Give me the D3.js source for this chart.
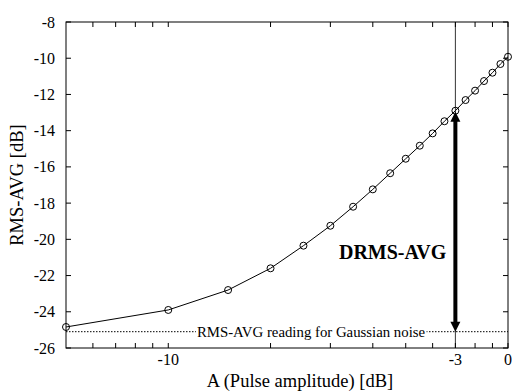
<!DOCTYPE html>
<html>
<head>
<meta charset="utf-8">
<script src="https://cdn.jsdelivr.net/npm/d3@7"></script>
<style>
  body { margin: 0; background: #fff; }
  svg { display: block; font-family: "Liberation Serif", "Times New Roman", serif; }
</style>
</head>
<body>
<svg id="chart" width="512" height="392"></svg>
<script>
// pulse amplitude (linear, plotted on a log axis) and RMS-AVG reading [dB]
const amplitude = [0.05, 0.1, 0.15, 0.2, 0.25, 0.3, 0.35, 0.4, 0.45, 0.5,
                   0.55, 0.6, 0.65, 0.7, 0.75, 0.8, 0.85, 0.9, 0.95, 1.0];
const rmsAvg = [-24.84, -23.9, -22.8, -21.6, -20.35, -19.25, -18.2, -17.24, -16.35, -15.55,
                -14.83, -14.15, -13.48, -12.9, -12.31, -11.79, -11.26, -10.8, -10.32, -9.92];

const xLabelTicks = [0.1, 0.7, 1];
const xLabelText = ["-10", "-3", "0"];
const xMinorTicks = [0.06, 0.07, 0.08, 0.09, 0.2, 0.3, 0.4, 0.5, 0.6, 0.8, 0.9];
const yTicks = [-26, -24, -22, -20, -18, -16, -14, -12, -10, -8];

const noiseLevel = -25.1;
const markerA = 0.7;
const noiseText = "RMS-AVG reading for Gaussian noise";
const markerText = "DRMS-AVG";

let svg = d3.select('#chart');
let m_left = 66, m_right = 508, m_top = 22, m_bottom = 348;

let x = d3.scaleLog().domain([0.05, 1]).range([m_left, m_right]);
let y = d3.scaleLinear().domain([-26, -8]).range([m_bottom, m_top]);

let g = svg.append('g').attr('class', 'root_container');

// frame
g.append('rect').attr('x', m_left).attr('y', m_top)
  .attr('width', m_right - m_left).attr('height', m_bottom - m_top)
  .attr('fill', 'none').attr('stroke', '#000').attr('stroke-width', 1);

// inward ticks on all four sides
let tickLen = 5;
let allX = xLabelTicks.concat(xMinorTicks);
g.selectAll('.xtick_b').data(allX).enter().append('line')
  .attr('x1', d => x(d)).attr('x2', d => x(d))
  .attr('y1', m_bottom).attr('y2', m_bottom - tickLen)
  .attr('stroke', '#000');
g.selectAll('.xtick_t').data(allX).enter().append('line')
  .attr('x1', d => x(d)).attr('x2', d => x(d))
  .attr('y1', m_top).attr('y2', m_top + tickLen)
  .attr('stroke', '#000');
g.selectAll('.ytick_l').data(yTicks).enter().append('line')
  .attr('x1', m_left).attr('x2', m_left + tickLen)
  .attr('y1', d => y(d)).attr('y2', d => y(d))
  .attr('stroke', '#000');
g.selectAll('.ytick_r').data(yTicks).enter().append('line')
  .attr('x1', m_right).attr('x2', m_right - tickLen)
  .attr('y1', d => y(d)).attr('y2', d => y(d))
  .attr('stroke', '#000');

// tick labels
g.selectAll('.ylab').data(yTicks).enter().append('text')
  .attr('x', m_left - 11).attr('y', d => y(d)).attr('dy', '0.35em')
  .attr('text-anchor', 'end').attr('font-size', 16)
  .text(d => d);
g.selectAll('.xlab').data(xLabelTicks).enter().append('text')
  .attr('x', d => x(d)).attr('y', m_bottom + 17)
  .attr('text-anchor', 'middle').attr('font-size', 16)
  .text((d, i) => xLabelText[i]);

// axis titles
g.append('text').attr('x', 300).attr('y', 387)
  .attr('text-anchor', 'middle').attr('font-size', 18.5)
  .text('A (Pulse amplitude) [dB]');
g.append('text').attr('transform', 'translate(23,' + 185 + ') rotate(-90)')
  .attr('text-anchor', 'middle').attr('font-size', 18.5)
  .text('RMS-AVG [dB]');

// thin vertical marker at -3
g.append('line').attr('x1', x(markerA)).attr('x2', x(markerA))
  .attr('y1', m_top).attr('y2', m_bottom)
  .attr('stroke', '#000').attr('stroke-width', 0.8);

// noise floor (dotted) with label on top
g.append('line').attr('x1', m_left).attr('x2', m_right)
  .attr('y1', y(noiseLevel)).attr('y2', y(noiseLevel))
  .attr('stroke', '#000').attr('stroke-width', 1).attr('stroke-dasharray', '1.5,1.5');
let nt = g.append('text').attr('x', 311).attr('y', y(noiseLevel) + 5)
  .attr('text-anchor', 'middle').attr('font-size', 14.8)
  .text(noiseText);
let bb = nt.node().getBBox();
g.insert('rect', function(){ return nt.node(); })
  .attr('x', bb.x - 1).attr('y', y(noiseLevel) - 2).attr('width', bb.width + 2).attr('height', 4)
  .attr('fill', '#fff');

// data line and circles
let line = d3.line().x((d, i) => x(amplitude[i])).y(d => y(d));
g.append('path').datum(rmsAvg).attr('d', line)
  .attr('fill', 'none').attr('stroke', '#000').attr('stroke-width', 1);
g.selectAll('.pt').data(rmsAvg).enter().append('circle')
  .attr('cx', (d, i) => x(amplitude[i])).attr('cy', d => y(d)).attr('r', 3.5)
  .attr('fill', 'none').attr('stroke', '#000').attr('stroke-width', 1);

// thick double arrow from noise floor to the curve at -3
let mi = amplitude.indexOf(markerA);
let ax = x(markerA), yTop = y(rmsAvg[mi]) + 1, yBot = y(noiseLevel);
let headL = 10, headW = 5;
g.append('line').attr('x1', ax).attr('x2', ax)
  .attr('y1', yTop + headL - 1).attr('y2', yBot - headL + 1)
  .attr('stroke', '#000').attr('stroke-width', 4);
g.append('path')
  .attr('d', 'M' + ax + ',' + yTop + 'L' + (ax - headW) + ',' + (yTop + headL) + 'L' + (ax + headW) + ',' + (yTop + headL) + 'Z')
  .attr('fill', '#000');
g.append('path')
  .attr('d', 'M' + ax + ',' + yBot + 'L' + (ax - headW) + ',' + (yBot - headL) + 'L' + (ax + headW) + ',' + (yBot - headL) + 'Z')
  .attr('fill', '#000');

g.append('text').attr('x', ax - 9).attr('y', 259)
  .attr('text-anchor', 'end').attr('font-size', 20).attr('font-weight', 'bold')
  .text(markerText);
</script>
</body>
</html>
